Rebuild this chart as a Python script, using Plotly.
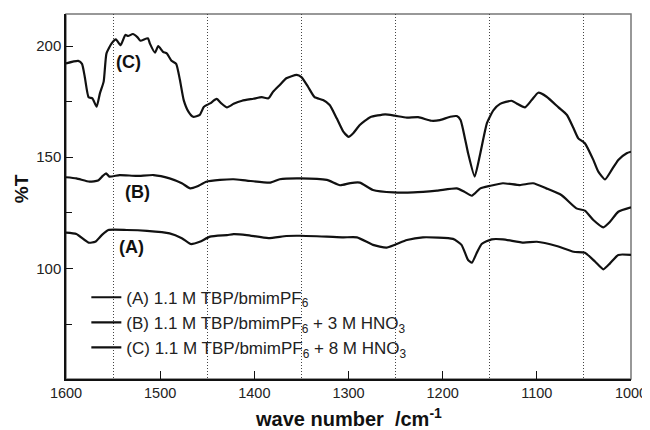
import plotly.graph_objects as go

# ---- data ----
wn_A = [1600, 1589, 1576, 1569, 1562, 1555, 1535.5, 1514, 1490, 1477, 1467.6, 1458, 1447, 1429, 1422, 1408,
        1385, 1366, 1351.5, 1323, 1305.5, 1291, 1274, 1259.5, 1238, 1221, 1189, 1180, 1173, 1169, 1164,
        1158.6, 1148, 1136, 1114, 1100, 1079, 1061, 1049, 1038, 1029.4, 1022.3, 1013.5, 1000]
T_A = [116.1, 115.5, 111.6, 112, 115, 117.3, 117.3, 116.9, 115.8, 113.6, 111, 112, 114.3, 115, 115.4, 115,
       113.6, 114.6, 114.7, 114.3, 114, 114, 110.6, 109.4, 112.8, 114, 113.3, 110.6, 103.8, 102.6, 106.8,
       111, 113.1, 113.1, 111.6, 112, 110.1, 107.5, 107.1, 103, 99.6, 102.3, 106.1, 106.1]

wn_B = [1600, 1589, 1575, 1566, 1561, 1557.5, 1554, 1543, 1525, 1507, 1490, 1477, 1468, 1461, 1451, 1436.5,
        1422, 1408, 1383, 1373, 1351.5, 1323, 1309, 1298, 1288, 1274, 1252, 1231, 1206, 1185, 1177, 1169,
        1160, 1150, 1136, 1118, 1104, 1090, 1074, 1058, 1049, 1040, 1029.4, 1022.3, 1013.5, 1000]
T_B = [141.0, 140.5, 139, 139.5, 141.6, 142.8, 141.3, 142, 141.6, 142, 140.5, 138.3, 136, 136.8, 139, 139.8,
       140.1, 139.5, 138.6, 140.1, 140.5, 139.8, 137.4, 138.4, 138.6, 135.3, 134.2, 134.2, 135, 136, 134.5, 132.7,
       136, 137.1, 138.3, 137.5, 138.3, 136, 133, 127, 126, 121.8, 118.5, 121, 125.5, 127.5]

wn_C = [1600, 1587, 1583, 1580, 1576, 1572, 1567.5, 1564, 1560, 1557, 1551.5, 1547, 1542, 1537, 1534, 1529,
        1524, 1521, 1513, 1511, 1505.5, 1502, 1497, 1493, 1488, 1483, 1479, 1475, 1470, 1465, 1458, 1453.5,
        1447, 1440, 1435, 1429, 1422, 1413, 1401, 1392, 1385, 1380, 1373, 1366, 1355, 1350, 1343, 1336,
        1327, 1320, 1312.5, 1305.5, 1300, 1295, 1288, 1277, 1261, 1251, 1238, 1226, 1212, 1203, 1192, 1185,
        1181, 1176, 1173, 1166, 1160, 1153, 1146, 1139, 1127, 1121.5, 1112.6, 1105.5, 1098.5, 1089.6, 1077,
        1068, 1061, 1056, 1049, 1040, 1034.7, 1027.6, 1020.5, 1013.5, 1004.6, 1000]
T_C = [192.2, 193.3, 192, 186, 177, 176.5, 172.7, 178.7, 184, 196.7, 201.2, 203, 200.4, 205, 204.5, 205.4,
       203.9, 202.4, 203.5, 201.2, 197, 200, 197.4, 196.7, 193.4, 192, 184.7, 175.7, 170.5, 168.2, 169, 172.7,
       174.2, 176.2, 174.2, 172.4, 174, 175.4, 176.3, 177, 176.5, 179.5, 182.5, 185.5, 187, 186, 181.7, 177,
       175.7, 173.5, 167.5, 161.5, 159.2, 160.8, 164.5, 168, 169.3, 168.7, 167.8, 168, 166.4, 166.7, 168.2, 168.5,
       166.7, 157.8, 151.8, 141.3, 151.8, 165.3, 171.2, 174, 175.4, 174.2, 172.4, 175.7, 179, 177.2, 172.4,
       169, 163, 158.5, 156.3, 148.8, 143.5, 140, 144.3, 148.8, 151.8, 152.5]

series_names = ["(A) 1.1 M TBP/bmimPF<sub>6</sub>",
                "(B) 1.1 M TBP/bmimPF<sub>6</sub> + 3 M HNO<sub>3</sub>",
                "(C) 1.1 M TBP/bmimPF<sub>6</sub> + 8 M HNO<sub>3</sub>"]

curve_labels = ["(A)", "(B)", "(C)"]
label_x = [1530, 1524.6, 1534]
label_y = [109.8, 134.4, 192.9]

x_ticks = [1600, 1500, 1400, 1300, 1200, 1100, 1000]
x_grid = [1550, 1450, 1350, 1250, 1150, 1050]
y_ticks = [100, 150, 200]
y_minor = [75, 125, 175]

FONT = "Liberation Sans, Arial, sans-serif"
fig = go.Figure()
for wn, T, name in zip([wn_A, wn_B, wn_C], [T_A, T_B, T_C], series_names):
    fig.add_trace(go.Scatter(x=wn, y=T, mode="lines", name=name,
                             line=dict(color="#111111", width=2.2, shape="spline", smoothing=0.5)))

for t, xx, yy in zip(curve_labels, label_x, label_y):
    fig.add_annotation(x=xx, y=yy, text="<b>%s</b>" % t, showarrow=False,
                       font=dict(family=FONT, size=18, color="#111111"))

fig.add_annotation(xref="paper", yref="paper", x=0.5, y=-0.106, text="<b>wave number\u00a0\u00a0/cm<sup>-1</sup></b>",
                   showarrow=False, font=dict(family=FONT, size=20, color="#111111"), yanchor="middle")
fig.add_annotation(xref="paper", yref="paper", x=-0.0796, y=0.52, text="<b>%T</b>", textangle=-90,
                   showarrow=False, font=dict(family=FONT, size=19, color="#111111"), xanchor="center", yanchor="middle")

fig.add_shape(type="rect", xref="paper", yref="paper", x0=0, x1=1, y0=0, y1=1,
              line=dict(color="#777777", width=1.5), layer="below")

# the page body adds an 8px offset; margins compensate so the plot area sits at x 66-631, y 14-379
fig.update_layout(
    width=650, height=430,
    margin=dict(l=58, r=27, t=6, b=59),
    plot_bgcolor="white", paper_bgcolor="white",
    font=dict(family=FONT, size=15, color="#222222"),
    showlegend=True,
    legend=dict(x=0.036, y=0.272, xanchor="left", yanchor="top", bgcolor="rgba(0,0,0,0)",
                font=dict(family=FONT, size=17, color="#222222"), traceorder="normal",
                tracegroupgap=0),
    xaxis=dict(range=[1600, 1000], tickvals=x_ticks, ticks="inside", ticklen=8, tickwidth=1.2,
               tickcolor="#111111", showline=True, linecolor="#111111", linewidth=1.5, showgrid=False,
               zeroline=False, tickfont=dict(size=14.5),
               minor=dict(tickvals=x_grid, showgrid=True, griddash="1px,2px", gridcolor="#444444", gridwidth=1,
                          ticklen=0)),
    yaxis=dict(range=[50.3, 214.4], tickvals=y_ticks, ticks="inside", ticklen=7, tickwidth=1.2,
               tickcolor="#111111", showline=True, linecolor="#111111", linewidth=1.5, showgrid=False,
               zeroline=False,
               minor=dict(tickvals=y_minor, ticks="inside", ticklen=6, tickwidth=1.2, tickcolor="#111111",
                          showgrid=False)),
)

fig.write_html("out.html")
